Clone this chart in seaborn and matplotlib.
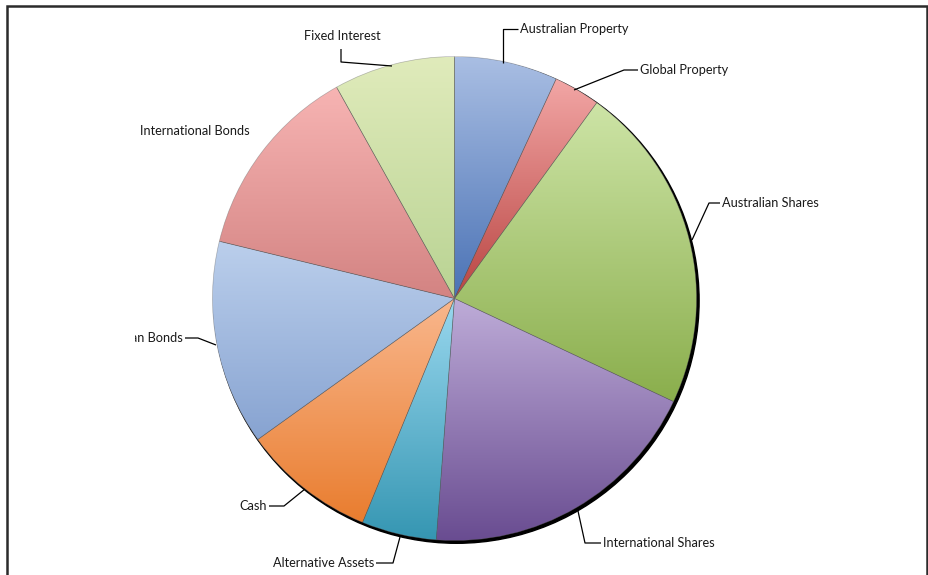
import numpy as np
import matplotlib
matplotlib.use("Agg")
import matplotlib.pyplot as plt
import seaborn as sns
from matplotlib.patches import Circle, Rectangle
from matplotlib.colors import to_rgb
from matplotlib.transforms import Bbox, TransformedBbox

# ---- data ----
categories = ["Australian Property", "Global Property", "Australian Shares",
              "International Shares", "Alternative Assets", "Cash",
              "Australian Bonds", "International Bonds", "Fixed Interest"]
values = [6.9, 3.1, 22.0, 19.2, 5.0, 8.9, 13.7, 13.1, 8.1]
top_colors = ["#A9BEE3", "#F2A6A5", "#CDE4A6", "#BEACD8", "#9AD8EF",
              "#F9B78D", "#BBCFEC", "#F7B4B3", "#E0EBBB"]
bottom_colors = ["#4A72B5", "#B94542", "#8AAE4C", "#684B90", "#3596B2",
                 "#E97D2F", "#87A3D1", "#D38382", "#B9D393"]

sns.set_theme(style="white")
plt.rcParams['font.family'] = ['Lato', 'DejaVu Sans']

W, H = 929, 575
fig = plt.figure(figsize=(W / 100, H / 100), dpi=100)
ax = fig.add_axes([0, 0, 1, 1])

cx, cy, r = 454.5, H - 298.5, 242.0

# shadow
ax.add_patch(Circle((cx + 2.0, cy - 2.2), r + 0.6, color="black", zorder=1))

wedges, _ = ax.pie(values, startangle=90, counterclock=False, radius=r,
                   center=(cx, cy), frame=True,
                   wedgeprops=dict(edgecolor=(0.4, 0.4, 0.4, 0.45), linewidth=0.5))
ax.set_xlim(0, W)
ax.set_ylim(0, H)
ax.set_aspect("equal")
ax.axis("off")

inv = ax.transData.inverted()
for w, tc, bc in zip(wedges, top_colors, bottom_colors):
    w.set_zorder(3)
    w.set_facecolor("none")
    verts = w.get_transform().transform(w.get_path().vertices)
    dv = inv.transform(verts)
    x0, x1 = dv[:, 0].min(), dv[:, 0].max()
    y0, y1 = dv[:, 1].min(), dv[:, 1].max()
    t = np.linspace(0, 1, 256)[:, None]
    grad = (1 - t) * np.array(to_rgb(tc)) + t * np.array(to_rgb(bc))
    img = np.repeat(grad[:, None, :], 2, axis=1)
    im = ax.imshow(img, extent=(x0, x1, y0, y1), origin="upper",
                   aspect="auto", zorder=2, interpolation="bilinear")
    im.set_clip_path(w)

ax.set_xlim(0, W)
ax.set_ylim(0, H)
ax.set_aspect("equal")

# ---- labels with leader lines (pixel coordinates, y from top) ----
label_specs = [
    ("Australian Property", [(503, 63), (503, 29), (518, 29)], (520, 29), "left"),
    ("Global Property", [(574, 90), (624, 70), (638, 70)], (640, 70), "left"),
    ("Australian Shares", [(692, 240), (709, 203), (720, 203)], (722, 203), "left"),
    ("International Shares", [(578, 511), (585, 543), (601, 543)], (603, 543), "left"),
    ("Alternative Assets", [(400, 537), (393, 563), (376, 563)], (374, 563), "right"),
    ("Cash", [(305, 489), (284, 506), (269, 506)], (267, 506), "right"),
    ("Australian Bonds", [(216, 345), (198, 338), (185, 338)], (183, 338), "right"),
    ("International Bonds", None, (195, 131), "center"),
    ("Fixed Interest", [(392, 66), (341, 62), (341, 49)], (342, 36), "center"),
]

for name, pts, tpos, ha in label_specs:
    if pts is not None:
        xs = [p[0] for p in pts]
        ys = [H - p[1] for p in pts]
        ax.plot(xs, ys, color="black", lw=0.9, zorder=5, solid_capstyle="butt")
    txt = ax.text(tpos[0], H - tpos[1], name, ha=ha, va="center",
                  fontsize=9.2, color="#1a1a1a", zorder=6)
    if name == "Australian Bonds":
        txt.set_clip_on(True)
        txt.set_clip_box(TransformedBbox(Bbox([[135, 0], [W, H]]), ax.transData))

# chart frame
ax.add_patch(Rectangle((7, -20), 920, H - 6 + 20, fill=False,
                       edgecolor="#2b2b2b", lw=1.8, zorder=7))

fig.savefig("out.png", dpi=100)
